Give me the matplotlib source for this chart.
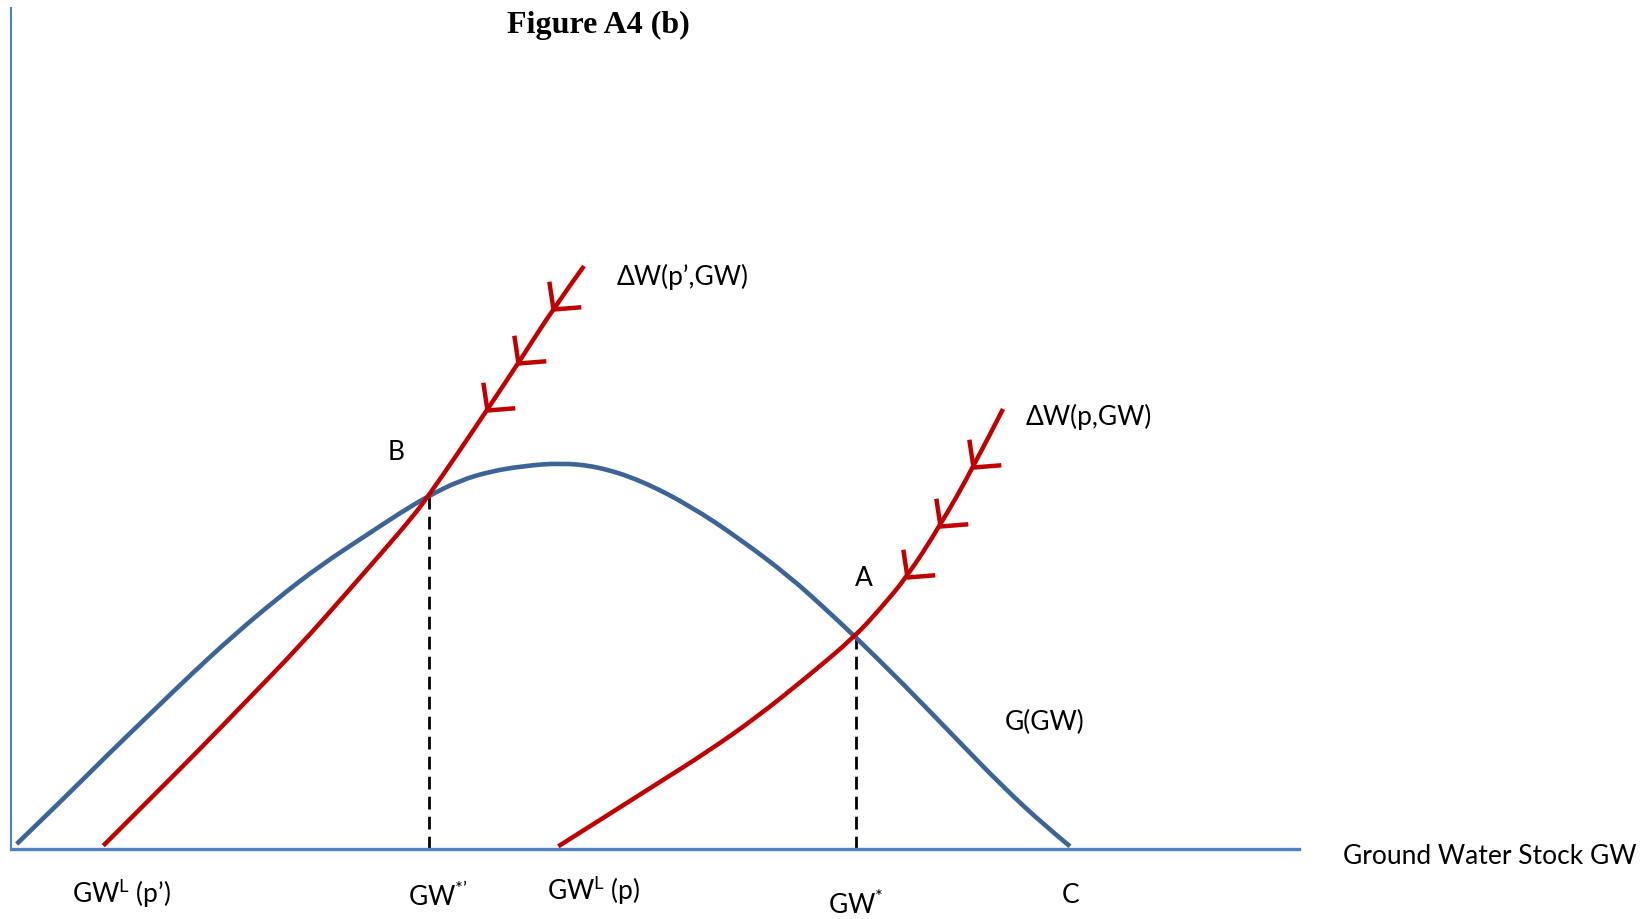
import numpy as np
import matplotlib
matplotlib.use("Agg")
from matplotlib import pyplot as plt
from matplotlib.path import Path
from matplotlib.patches import PathPatch

plt.rcParams['font.family'] = ['Lato', 'DejaVu Sans']
plt.rcParams['mathtext.fontset'] = 'custom'
plt.rcParams['mathtext.rm'] = 'Lato'

# growth curve G(GW)
g_x = [0.47, 5.47, 9.47, 13.8, 18.13, 22.13, 26.47, 30.8, 35.47, 38.8, 41.63, 44.8, 47.8, 51.13,
       54.8, 58.47, 62.8, 67.8, 72.8, 77.8, 81.13, 84.3, 89.13, 94.13, 99.13, 103.47, 105.8]
g_y = [0.5, 5.33, 9.33, 13.5, 17.67, 21.33, 25.0, 28.33, 31.4, 33.6, 35.3, 36.85, 37.75, 38.3,
       38.6, 38.27, 36.9, 34.33, 31.0, 27.2, 24.2, 21.25, 16.5, 11.33, 6.17, 2.17, 0.27]

# withdrawal curve at price p'
wp2_x = [9.13, 13.8, 18.8, 23.8, 28.8, 33.8, 37.13, 40.13, 41.63, 44.47, 47.7, 50.9, 54.1, 57.2]
wp2_y = [0.33, 5.0, 10.0, 15.17, 20.33, 26.0, 29.8, 33.3, 35.3, 39.4, 44.2, 49.0, 54.0, 58.3]

# withdrawal curve at price p
wp_x = [54.63, 59.47, 64.47, 69.47, 74.47, 79.47, 84.3, 86.8, 89.47, 92.8, 96.13, 99.1]
wp_y = [0.27, 3.33, 6.5, 9.67, 13.17, 17.17, 21.25, 24.0, 27.17, 32.33, 38.17, 44.0]

# direction chevrons sitting on the red curves
chev_x = [54.1, 50.6, 47.5, 96.13, 92.8, 89.47]
chev_y = [54.0, 48.6, 43.9, 38.17, 32.33, 27.17]

# equilibria B and A
eq_x = [41.7, 84.35]
eq_y = [35.3, 21.25]

x_axis_end = 128.7
y_axis_end = 84.1

blue = '#3D6496'
axis_blue = '#4F81BD'
red = '#C00000'


def smooth_curve(ax, xs, ys, **kw):
    # quadratic bezier through midpoints, the read points act as control points
    pts = list(zip(xs, ys))
    verts = [pts[0]]
    codes = [Path.MOVETO]
    for i in range(1, len(pts) - 1):
        mid = ((pts[i][0] + pts[i + 1][0]) / 2, (pts[i][1] + pts[i + 1][1]) / 2)
        if i == len(pts) - 2:
            mid = pts[-1]
        verts += [pts[i], mid]
        codes += [Path.CURVE3, Path.CURVE3]
    ax.add_patch(PathPatch(Path(verts, codes), fill=False, **kw))


fig = plt.figure(figsize=(16.46, 9.20), dpi=100)
ax = fig.add_axes([0, 0, 1, 1])
ax.set_xlim(-1.2, 163.4)
ax.set_ylim(-7.0, 85.0)

# axes drawn as spines through the origin
for s in ['top', 'right']:
    ax.spines[s].set_visible(False)
ax.spines['left'].set_position(('data', -0.1))
ax.spines['bottom'].set_position(('data', 0))
ax.spines['left'].set_bounds(0, y_axis_end)
ax.spines['bottom'].set_bounds(-0.1, x_axis_end)
ax.spines['left'].set_color(axis_blue)
ax.spines['bottom'].set_color(axis_blue)
ax.spines['left'].set_linewidth(1.5)
ax.spines['bottom'].set_linewidth(2.4)
ax.set_xticks([])
ax.set_yticks([])

smooth_curve(ax, g_x, g_y, edgecolor=blue, lw=3.3, zorder=3)
smooth_curve(ax, wp2_x, wp2_y, edgecolor=red, lw=3.2, zorder=4)
smooth_curve(ax, wp_x, wp_y, edgecolor=red, lw=3.2, zorder=4)

# chevron marker: tip at origin, one arm up, one arm to the right
chev = Path([(-0.15, 1.0), (0, 0), (1.0, 0.08)], [Path.MOVETO, Path.LINETO, Path.LINETO])
ax.plot(chev_x, chev_y, ls='none', marker=chev, markersize=40, markeredgewidth=3.2,
        markeredgecolor=red, markerfacecolor='none', zorder=5)

# dashed drops from the equilibria
ax.vlines(eq_x, 0, eq_y, colors='black', linestyles=(0, (4.6, 2.6)), lw=2.0, zorder=2)

fs = 19
ax.text(58.6, 82.5, 'Figure A4 (b)', family='Liberation Serif', weight='bold', fontsize=23,
        ha='center', va='center')
ax.text(60.5, 57.3, 'ΔW(p’,GW)', fontsize=fs, ha='left', va='center')
ax.text(101.4, 43.3, 'ΔW(p,GW)', fontsize=fs, ha='left', va='center')
ax.text(38.4, 39.7, 'B', fontsize=fs, ha='center', va='center')
ax.text(85.2, 27.2, 'A', fontsize=fs, ha='center', va='center')
ax.text(99.3, 12.8, 'G(GW)', fontsize=fs, ha='left', va='center')
ax.text(133.1, -0.7, 'Ground Water Stock GW', fontsize=fs, ha='left', va='center')
ax.text(6.0, -4.3, r'GW$^{\mathregular{L}}$ (p’)', fontsize=fs, ha='left', va='center')
ax.text(39.6, -4.6, r'GW$^{\mathregular{*’}}$', fontsize=fs, ha='left', va='center')
ax.text(53.5, -4.0, r'GW$^{\mathregular{L}}$ (p)', fontsize=fs, ha='left', va='center')
ax.text(81.6, -5.4, r'GW$^{\mathregular{*}}$', fontsize=fs, ha='left', va='center')
ax.text(105.9, -4.6, 'C', fontsize=fs, ha='center', va='center')

fig.savefig('out.png', dpi=100)
